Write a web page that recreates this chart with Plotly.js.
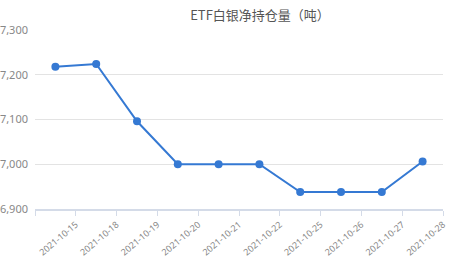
<!DOCTYPE html>
<html><head><meta charset="utf-8">
<script src="https://cdn.plot.ly/plotly-3.0.1.min.js"></script>
<style>html,body{margin:0;padding:0;background:#fff}#c{width:449px;height:260px}</style>
</head><body><div id="c"></div>
<script>
const categories = ["2021-10-15","2021-10-18","2021-10-19","2021-10-20","2021-10-21","2021-10-22","2021-10-25","2021-10-26","2021-10-27","2021-10-28"];
const holdings = [7218, 7224, 7096, 7000, 7000, 7000, 6938, 6938, 6938, 7006];
const yTicks = [6900, 7000, 7100, 7200, 7300];
const titleText = "ETF白银净持仓量（吨）";

const idx = categories.map((c, i) => i);
const boundaryVals = [-0.5].concat(idx.map(i => i + 0.5));
const boundaryText = [""].concat(categories);

Plotly.newPlot('c', [{
  x: idx, y: holdings, type: 'scatter', mode: 'lines+markers',
  line: {color: '#3579d3', width: 2},
  marker: {color: '#3579d3', size: 8},
  text: categories, hoverinfo: 'text+y'
}], {
  width: 449, height: 260,
  margin: {l: 35, r: 6, t: 30, b: 51},
  paper_bgcolor: '#fff', plot_bgcolor: '#fff',
  showlegend: false,
  title: {text: titleText, x: 260/449, xref: 'container', xanchor: 'center', y: 1 - 15/260, yref: 'container', yanchor: 'middle',
    font: {family: 'Noto Sans CJK SC', size: 13, color: '#555'}},
  xaxis: {
    range: [-0.5, 9.5], tickmode: 'array', tickvals: boundaryVals, ticktext: boundaryText,
    tickangle: -40, ticks: 'outside', ticklen: 5, tickcolor: '#d4dbe8', tickwidth: 1,
    showline: true, linecolor: '#d4dbe8', linewidth: 2, showgrid: false, zeroline: false,
    tickfont: {family: 'Noto Sans', size: 9, color: '#888'}
  },
  yaxis: {
    range: [6900, 7300], tickmode: 'array', tickvals: yTicks, tickformat: ',',
    showgrid: true, gridcolor: '#e3e3e3', gridwidth: 1, zeroline: false, showline: false,
    ticklabelstandoff: 6,
    tickfont: {family: 'Noto Sans', size: 11, color: '#888'}
  }
}, {displayModeBar: false, staticPlot: true});
</script></body></html>
